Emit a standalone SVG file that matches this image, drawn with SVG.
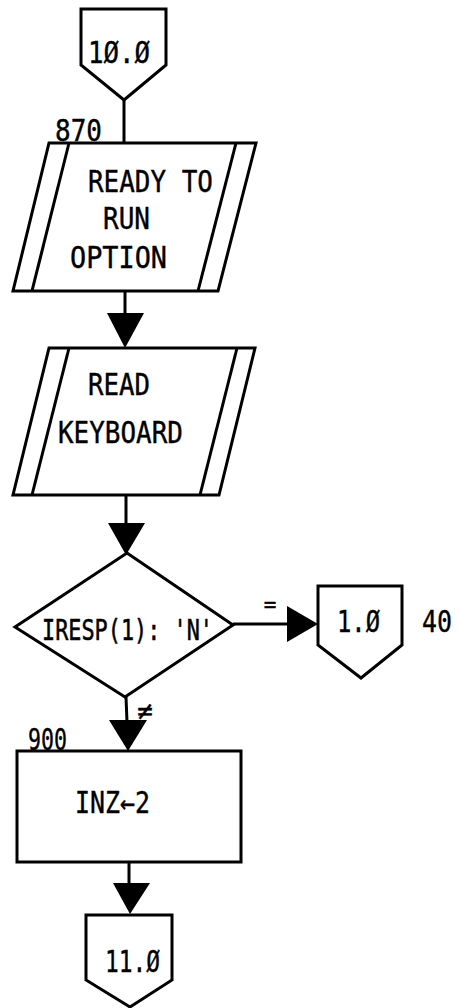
<svg xmlns="http://www.w3.org/2000/svg" width="458" height="1008" viewBox="0 0 458 1008">
<style>
.s{fill:none;stroke:#000;stroke-width:3;stroke-linejoin:miter}
.w{fill:#fff;stroke:#000;stroke-width:3}
.t{font-family:"DejaVu Sans Mono","Liberation Mono",monospace;font-size:30px;fill:#000;stroke:#000;stroke-width:0.4}
.ah{fill:#000;stroke:none}
</style>
<rect width="458" height="1008" fill="#fff"/>
<g id="connectors">
<line class="s" x1="124" y1="100" x2="124" y2="143"/>
<line class="s" x1="125" y1="291" x2="125" y2="315"/>
<polygon class="ah" points="107,313 144,313 125,348"/>
<line class="s" x1="126" y1="495" x2="126" y2="525"/>
<polygon class="ah" points="108,523 145,523 126,555"/>
<line class="s" x1="233" y1="624" x2="290" y2="624"/>
<polygon class="ah" points="287,606 287,642 318,624"/>
<text class="t" x="270" y="612" text-anchor="middle" style="font-size:21px">=</text>
<line class="s" x1="126" y1="697" x2="127" y2="722"/>
<polygon class="ah" points="109,720 147,720 128,751"/>
<text class="t" x="145" y="720" text-anchor="middle" style="font-size:26px">≠</text>
<line class="s" x1="129" y1="862" x2="129" y2="885"/>
<polygon class="ah" points="113,883 150,883 130,914"/>
</g>
<g id="n10">
<polygon class="w" points="81,9 166,9 166,65 124,100 81,65"/>
<text class="t" x="88" y="63" textLength="62" lengthAdjust="spacingAndGlyphs">1Ø.Ø</text>
</g>
<g id="n870">
<polygon class="w" points="49,143 256,143 218,291 13,291"/>
<line class="s" x1="69" y1="143" x2="32" y2="291"/>
<line class="s" x1="236" y1="143" x2="198" y2="291"/>
<text class="t" x="55" y="141" textLength="47" lengthAdjust="spacingAndGlyphs">870</text>
<text class="t" x="88" y="192" textLength="125" lengthAdjust="spacingAndGlyphs">READY TO</text>
<text class="t" x="103" y="229" textLength="47" lengthAdjust="spacingAndGlyphs">RUN</text>
<text class="t" x="70" y="268" textLength="97" lengthAdjust="spacingAndGlyphs">OPTION</text>
</g>
<g id="nread">
<polygon class="w" points="49,348 255,348 219,495 13,495"/>
<line class="s" x1="69" y1="348" x2="32" y2="495"/>
<line class="s" x1="237" y1="348" x2="200" y2="495"/>
<text class="t" x="88" y="395" textLength="62" lengthAdjust="spacingAndGlyphs">READ</text>
<text class="t" x="58" y="443" textLength="125" lengthAdjust="spacingAndGlyphs">KEYBOARD</text>
</g>
<g id="ndec">
<polygon class="w" points="127,553 233,625 125,697 15,627"/>
<text class="t" transform="translate(42,640) scale(1,1.3)" x="0" y="0" style="font-size:22px" textLength="171" lengthAdjust="spacingAndGlyphs">IRESP(1): 'N'</text>
</g>
<g id="n1">
<polygon class="w" points="318,586 402,586 402,645 361,678 318,645"/>
<text class="t" x="337" y="632" textLength="43" lengthAdjust="spacingAndGlyphs">1.Ø</text>
<text class="t" x="422" y="632" textLength="30" lengthAdjust="spacingAndGlyphs">40</text>
</g>
<g id="n900">
<rect class="w" x="17" y="751" width="224" height="111"/>
<text class="t" x="28" y="750" textLength="39" lengthAdjust="spacingAndGlyphs">900</text>
<text class="t" x="75" y="813" textLength="75" lengthAdjust="spacingAndGlyphs">INZ←2</text>
</g>
<g id="n11">
<polygon class="w" points="86,915 172,915 172,980 130,1007 86,980"/>
<text class="t" x="105" y="972" textLength="55" lengthAdjust="spacingAndGlyphs">11.Ø</text>
</g>
</svg>
